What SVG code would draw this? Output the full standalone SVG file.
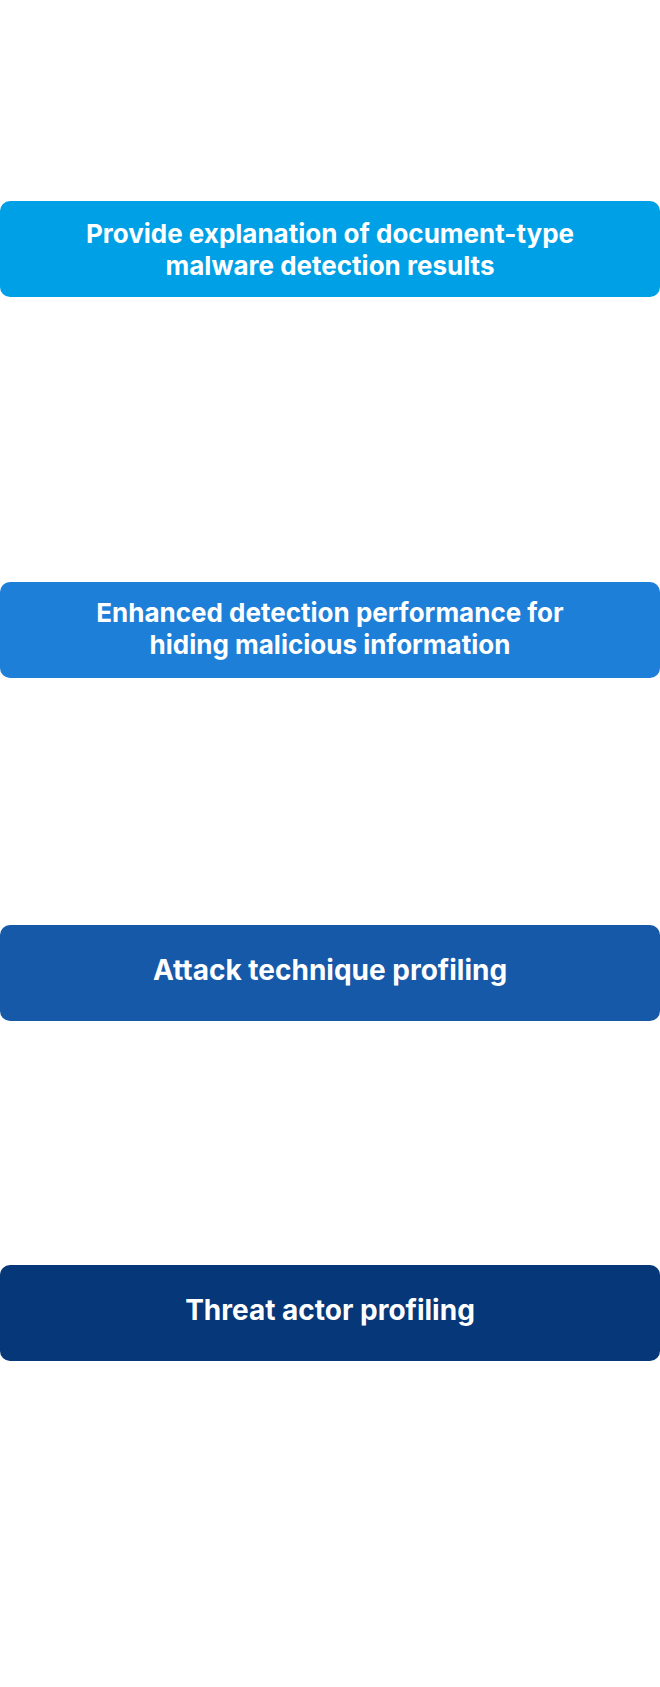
<svg xmlns="http://www.w3.org/2000/svg" width="660" height="1687" viewBox="0 0 660 1687">
<style>
.lbl{font-family:Inter,Roboto,"Liberation Sans",sans-serif;font-weight:700;font-size:26px;fill:#ffffff;text-anchor:middle}
.big{font-size:28px}
</style>
<rect width="660" height="1687" fill="#ffffff"/>
<g id="connectors"></g>
<g id="node1"><rect x="0" y="201" width="660" height="96" rx="10" fill="#00A0E6"/>
<text class="lbl" x="330" y="243">Provide explanation of document-type</text>
<text class="lbl" x="330" y="275">malware detection results</text></g>
<g id="node2"><rect x="0" y="582" width="660" height="96" rx="10" fill="#1E7FD8"/>
<text class="lbl" x="330" y="622">Enhanced detection performance for</text>
<text class="lbl" x="330" y="654">hiding malicious information</text></g>
<g id="node3"><rect x="0" y="925" width="660" height="96" rx="10" fill="#1759A9"/>
<text class="lbl big" x="330" y="980">Attack technique profiling</text></g>
<g id="node4"><rect x="0" y="1265" width="660" height="96" rx="10" fill="#063778"/>
<text class="lbl big" x="330" y="1320">Threat actor profiling</text></g>
</svg>
